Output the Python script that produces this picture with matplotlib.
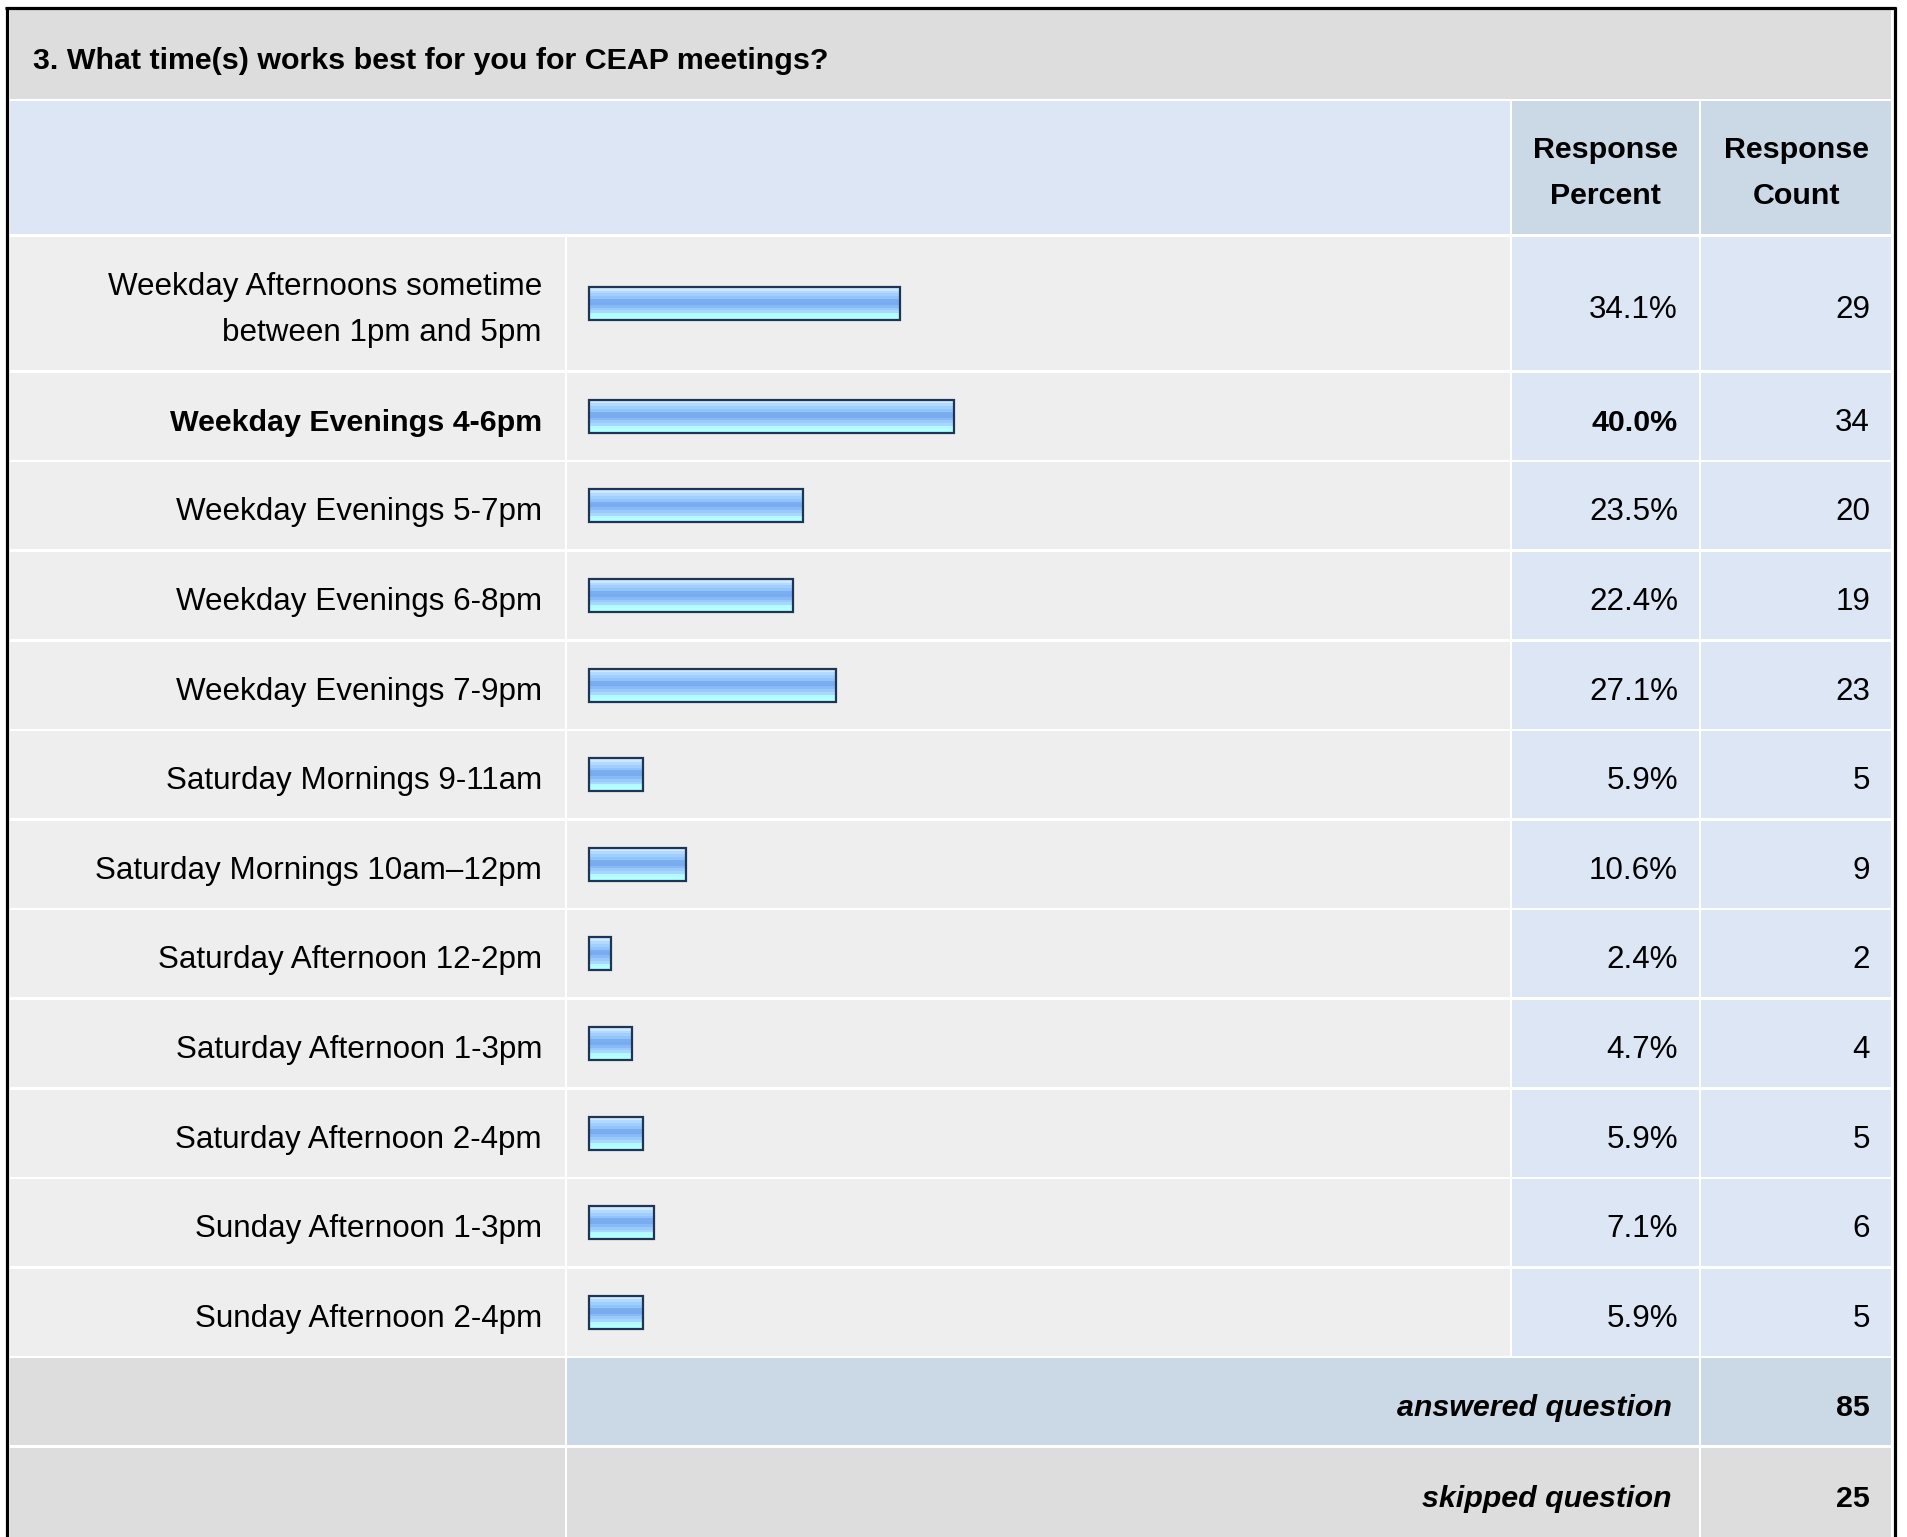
import matplotlib
matplotlib.use("Agg")
import matplotlib.pyplot as plt
from matplotlib.patches import Rectangle

plt.rcParams['font.family'] = ['Liberation Sans', 'DejaVu Sans']

# ---------------- data ----------------
title = "3. What time(s) works best for you for CEAP meetings?"
categories = [
    "Weekday Afternoons sometime\nbetween 1pm and 5pm",
    "Weekday Evenings 4-6pm",
    "Weekday Evenings 5-7pm",
    "Weekday Evenings 6-8pm",
    "Weekday Evenings 7-9pm",
    "Saturday Mornings 9-11am",
    "Saturday Mornings 10am\u201312pm",
    "Saturday Afternoon 12-2pm",
    "Saturday Afternoon 1-3pm",
    "Saturday Afternoon 2-4pm",
    "Sunday Afternoon 1-3pm",
    "Sunday Afternoon 2-4pm",
]
percents = [34.1, 40.0, 23.5, 22.4, 27.1, 5.9, 10.6, 2.4, 4.7, 5.9, 7.1, 5.9]
counts = [29, 34, 20, 19, 23, 5, 9, 2, 4, 5, 6, 5]
answered = 85
skipped = 25
header_percent = "Response\nPercent"
header_count = "Response\nCount"

# ---------------- layout (pixels) ----------------
W, H = 1907, 1537
fig = plt.figure(figsize=(W / 100, H / 100), dpi=100)
fig.patch.set_facecolor("white")
ax = fig.add_axes([0, 0, 1, 1])
ax.set_xlim(0, W)
ax.set_ylim(H, 0)
ax.axis("off")

x0, c1, c2, c3, x_end = 9, 566, 1511, 1700, 1892
y_title = (9, 100)
y_head = (100, 235.5)
row_tops = [235.5, 371.5]
row_h = 89.6
for k in range(1, len(categories)):
    row_tops.append(371.5 + row_h * k)
y_ans = (row_tops[-1], row_tops[-1] + row_h)
y_skip = (y_ans[1], y_ans[1] + row_h)

GAP = 1.3
GRAY = "#DDDDDD"
LGRAY = "#EEEEEE"
LBLUE = "#DCE6F4"
MBLUE = "#CBD8E6"


def cell(xa, xb, ya, yb, color):
    ax.add_patch(Rectangle((xa + GAP, ya + GAP), xb - xa - 2 * GAP, yb - ya - 2 * GAP,
                           facecolor=color, edgecolor="none", zorder=1))


FS = 22.6
FSB = 21.9
LS = 1.68

# title band
cell(x0, x_end, *y_title, GRAY)
ax.text(33, 61, title, fontsize=FSB, fontweight="bold", ha="left", va="center", zorder=5)

# header band
cell(x0, c2, *y_head, LBLUE)
cell(c2, c3, *y_head, MBLUE)
cell(c3, x_end, *y_head, MBLUE)
hc = (y_head[0] + y_head[1]) / 2 + 5
ax.text((c2 + c3) / 2, hc, header_percent, fontsize=FSB, fontweight="bold",
        ha="center", va="center", linespacing=1.82, zorder=5)
ax.text((c3 + x_end) / 2, hc, header_count, fontsize=FSB, fontweight="bold",
        ha="center", va="center", linespacing=1.82, zorder=5)

# data rows
imax = percents.index(max(percents))
centers = []
for i, (cat, p, n) in enumerate(zip(categories, percents, counts)):
    ya = row_tops[i]
    yb = row_tops[i + 1] if i + 1 < len(row_tops) else y_ans[0]
    cell(x0, c1, ya, yb, LGRAY)
    cell(c1, c2, ya, yb, LGRAY)
    cell(c2, c3, ya, yb, LBLUE)
    cell(c3, x_end, ya, yb, LBLUE)
    yc = (ya + yb) / 2
    centers.append(yc)
    bold = "bold" if i == imax else "normal"
    ax.text(542, yc + 6.5, cat, fontsize=FS if i != imax else FSB, fontweight=bold,
            ha="right", va="center", multialignment="right", linespacing=LS, zorder=5)
    ax.text(1678, yc + 6.5, f"{p:.1f}%", fontsize=FS if i != imax else FSB,
            fontweight=bold, ha="right", va="center", zorder=5)
    ax.text(1870, yc + 6.5, str(n), fontsize=FS, ha="right", va="center", zorder=5)

# answered / skipped rows
cell(x0, c1, *y_ans, GRAY)
cell(c1, c3, *y_ans, MBLUE)
cell(c3, x_end, *y_ans, MBLUE)
ya_c = (y_ans[0] + y_ans[1]) / 2 + 6.5
ax.text(1672, ya_c, "answered question", fontsize=FSB, fontweight="bold", style="italic",
        ha="right", va="center", zorder=5)
ax.text(1870, ya_c, str(answered), fontsize=FSB, fontweight="bold", ha="right", va="center", zorder=5)

cell(x0, c1, y_skip[0], y_skip[1] + 20, GRAY)
cell(c1, c3, y_skip[0], y_skip[1] + 20, GRAY)
cell(c3, x_end, y_skip[0], y_skip[1] + 20, GRAY)
ys_c = (y_skip[0] + y_skip[1]) / 2 + 7.5
ax.text(1672, ys_c, "skipped question", fontsize=FSB, fontweight="bold", style="italic",
        ha="right", va="center", zorder=5)
ax.text(1870, ys_c, str(skipped), fontsize=FSB, fontweight="bold", ha="right", va="center", zorder=5)

# outer border
ax.plot([6.5, 6.5], [7, H + 5], color="black", lw=2.3, zorder=6, solid_capstyle="butt")
ax.plot([1894.5, 1894.5], [7, H + 5], color="black", lw=2.3, zorder=6, solid_capstyle="butt")
ax.plot([5, 1896], [7.5, 7.5], color="black", lw=2.3, zorder=6, solid_capstyle="butt")

# ---------------- bars (own axes: x in percent, y in pixels) ----------------
bar_x0 = 589
px_per_pct = 9.12
top_px, bot_px = row_tops[0], y_ans[0]
bax = fig.add_axes([c1 / W, 1 - bot_px / H, (c2 - c1) / W, (bot_px - top_px) / H])
bax.set_xlim(-(bar_x0 - c1) / px_per_pct, (c2 - bar_x0) / px_per_pct)
bax.set_ylim(bot_px, top_px)
bax.axis("off")
bax.patch.set_alpha(0)

stripe_colors = ["#CDE8FF", "#B2D9FF", "#A0CEFF", "#92C3FB", "#7BAEF1",
                 "#78ABEF", "#88BBF6", "#99CAFD", "#A8D8FF", "#B2FCFF", "#B4FFFF"]
inner_h = 31.0
ns = len(stripe_colors)
sh = inner_h / ns
for k, col in enumerate(stripe_colors):
    ys = [c - inner_h / 2 + sh * (k + 0.5) for c in centers]
    bax.barh(ys, percents, height=sh + 0.3, left=0, color=col, edgecolor="none", zorder=2)
bax.barh(centers, percents, height=33, left=0, facecolor="none",
         edgecolor="#1E3556", linewidth=1.6, zorder=3)

fig.savefig("out.png", dpi=100, facecolor="white")
